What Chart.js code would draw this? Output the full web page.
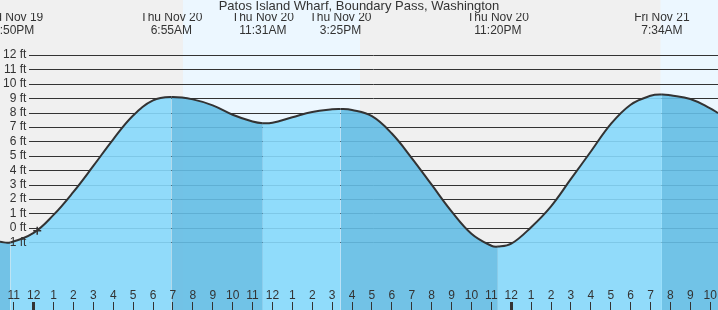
<!DOCTYPE html>
<html>
<head>
<meta charset="utf-8">
<title>Patos Island Wharf tide chart</title>
<script src="https://cdn.jsdelivr.net/npm/chart.js@4.4.0/dist/chart.umd.min.js"></script>
<style>
	html, body { margin: 0; padding: 0; background: #f0f0f0; }
	#chartBox { width: 718px; height: 310px; }
</style>
</head>
<body>
<div id="chartBox"><canvas id="tideChart" width="718" height="310"></canvas></div>
<script>
// Tide heights (hours from midnight Thu Nov 20, feet)
const tideHours = [-1.69, -1.17, 0, 1, 2, 3, 4, 5, 6, 6.92, 8, 9, 10, 11, 11.52, 12, 13, 14, 15, 15.42,
	16, 17, 18, 19, 20, 21, 22, 23, 23.33, 24, 25, 26, 27, 28, 29, 30, 31, 31.57, 32, 33, 34, 34.39];
const tideFeet = [-0.97, -1.01, -0.35, 0.9, 2.5, 4.3, 6.15, 7.8, 8.85, 9.08, 8.92, 8.5, 7.85, 7.38, 7.26, 7.3, 7.68, 8.05, 8.23, 8.25,
	8.18, 7.75, 6.55, 4.85, 3.0, 1.15, -0.4, -1.24, -1.3, -1.1, 0.05, 1.5, 3.4, 5.3, 7.2, 8.55, 9.17, 9.26, 9.2, 8.95, 8.3, 7.97];

// Labels above each high / low
const extremeHours = [-1.17, 6.92, 11.52, 15.42, 23.33, 31.57];
const extremeDays = ['Wed Nov 19', 'Thu Nov 20', 'Thu Nov 20', 'Thu Nov 20', 'Thu Nov 20', 'Fri Nov 21'];
const extremeTimes = ['10:50PM', '6:55AM', '11:31AM', '3:25PM', '11:20PM', '7:34AM'];

// Daylight periods
const sunrise = [7.5, 31.5];
const sunset = [16.4, 40.4];

// Current time marker
const nowHours = [0.18];
const nowFeet = [-0.2];

// Axes
const feetTicks = [-1, 0, 1, 2, 3, 4, 5, 6, 7, 8, 9, 10, 11, 12];
const hourMin = -1.69;
const hourMax = 34.39;
const feetMin = -5.70;
const feetMax = 13.25;

const lightFill = 'rgba(134, 216, 251, 0.9)';
const darkFill = 'rgba(100, 188, 228, 0.9)';

function hourLabel(value) {
	const h = ((Math.round(value) % 12) + 12) % 12;
	return h === 0 ? '12' : String(h);
}

// Grey night, pale blue day behind everything
const dayNightPlugin = {
	id: 'dayNight',
	beforeDraw(chart) {
		const ctx = chart.ctx;
		const xScale = chart.scales.x;
		ctx.save();
		ctx.fillStyle = '#f0f0f0';
		ctx.fillRect(0, 0, chart.width, chart.height);
		ctx.fillStyle = '#ecf7ff';
		sunrise.forEach((rise, i) => {
			const x0 = xScale.getPixelForValue(rise);
			const x1 = xScale.getPixelForValue(sunset[i]);
			ctx.fillRect(x0, 0, x1 - x0, chart.height);
		});
		ctx.restore();
	}
};

// Horizontal feet lines, starting right of the labels
const feetLinesPlugin = {
	id: 'feetLines',
	beforeDatasetsDraw(chart) {
		const ctx = chart.ctx;
		const yScale = chart.scales.y;
		ctx.save();
		ctx.strokeStyle = '#333';
		ctx.lineWidth = 1;
		ctx.beginPath();
		feetTicks.forEach(v => {
			const py = Math.round(yScale.getPixelForValue(v)) + 0.5;
			ctx.moveTo(29, py);
			ctx.lineTo(chart.chartArea.right, py);
		});
		ctx.stroke();
		ctx.restore();
	}
};

document.addEventListener('DOMContentLoaded', function() {
	Chart.defaults.font.family = '"Liberation Sans", Arial, sans-serif';
	Chart.defaults.color = '#333';

	const ctx = document.getElementById('tideChart').getContext('2d');
	new Chart(ctx, {
		type: 'line',
		data: {
			datasets: [
				{
					label: 'Now',
					data: nowHours.map((h, i) => ({ x: h, y: nowFeet[i] })),
					xAxisID: 'x',
					yAxisID: 'y',
					showLine: false,
					pointStyle: 'cross',
					pointRadius: 4,
					pointBorderColor: '#333',
					pointBorderWidth: 1.5,
					order: -1
				},
				{
					label: 'Tide',
					data: tideHours.map((h, i) => ({ x: h, y: tideFeet[i] })),
					xAxisID: 'x',
					yAxisID: 'y',
					borderColor: '#333',
					borderWidth: 2,
					pointRadius: 0,
					tension: 0.4,
					fill: 'start',
					backgroundColor: lightFill,
					segment: {
						backgroundColor: c => c.p1.parsed.y < c.p0.parsed.y ? darkFill : lightFill
					}
				}
			]
		},
		options: {
			responsive: false,
			devicePixelRatio: 1,
			animation: false,
			layout: { padding: 0, autoPadding: false },
			plugins: {
				legend: { display: false },
				tooltip: { enabled: false },
				title: {
					display: true,
					text: 'Patos Island Wharf, Boundary Pass, Washington',
					color: '#333',
					font: { size: 13, weight: 'normal', lineHeight: 1 },
					padding: 0
				}
			},
			scales: {
				x: {
					type: 'linear',
					position: 'bottom',
					min: hourMin,
					max: hourMax,
					border: { display: false },
					grid: {
						z: 1,
						drawOnChartArea: false,
						drawTicks: true,
						tickLength: -8,
						color: '#333',
						lineWidth: c => (c.tick && c.tick.value % 24 === 0) ? 3 : 1
					},
					ticks: {
						z: 1,
						stepSize: 1,
						includeBounds: false,
						autoSkip: false,
						maxRotation: 0,
						mirror: true,
						padding: 7,
						color: '#333',
						font: { size: 12 },
						callback: value => hourLabel(value)
					},
					afterFit: scale => {
						scale.height = 0;
						scale.paddingLeft = 0;
						scale.paddingRight = 0;
					}
				},
				x2: {
					type: 'linear',
					position: 'top',
					min: hourMin,
					max: hourMax,
					border: { display: false },
					grid: { display: false, drawTicks: false },
					afterBuildTicks: scale => {
						scale.ticks = extremeHours.map(h => ({ value: h }));
					},
					ticks: {
						autoSkip: false,
						maxRotation: 0,
						padding: 0,
						color: '#333',
						font: { size: 12, lineHeight: 1.08 },
						callback: (value, index) => [extremeDays[index], extremeTimes[index]]
					},
					afterFit: scale => {
						scale.height = 24;
						scale.paddingLeft = 0;
						scale.paddingRight = 0;
					}
				},
				y: {
					type: 'linear',
					position: 'left',
					min: feetMin,
					max: feetMax,
					border: { display: false },
					grid: { display: false, drawTicks: false },
					afterBuildTicks: scale => {
						scale.ticks = feetTicks.map(v => ({ value: v }));
					},
					ticks: {
						z: 1,
						mirror: true,
						crossAlign: 'far',
						padding: 3,
						color: '#333',
						font: { size: 12 },
						callback: value => value + ' ft'
					},
					afterFit: scale => {
						scale.width = 0;
						scale.paddingTop = 0;
						scale.paddingBottom = 0;
					}
				}
			}
		},
		plugins: [dayNightPlugin, feetLinesPlugin]
	});
});
</script>
</body>
</html>
